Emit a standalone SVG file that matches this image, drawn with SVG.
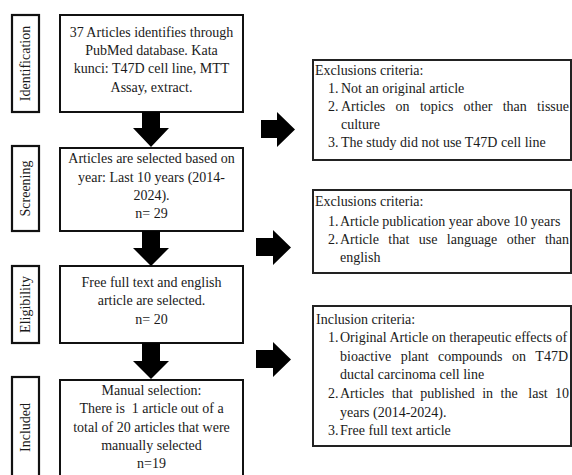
<svg xmlns="http://www.w3.org/2000/svg" width="572" height="475" viewBox="0 0 572 475">
<style>
text{font-family:"Liberation Serif","Times New Roman",serif;font-size:14px;fill:#1a1a1a}
.c{text-anchor:middle}
.e{text-anchor:end}
.box{fill:#fff;stroke:#111;stroke-width:2}
.lab{fill:#fff;stroke:#111;stroke-width:2.2}
.rb{fill:#fff;stroke:#222;stroke-width:2}
.arr{fill:#000}
.pre{white-space:pre}
</style>
<rect width="572" height="475" fill="#fff"/>
<g id="label-identification">
<rect class="lab" x="12" y="15" width="27" height="97"/>
<text class="c" transform="translate(30,63.5) rotate(-90)">Identification</text>
</g>
<g id="label-screening">
<rect class="lab" x="12" y="146" width="27" height="85"/>
<text class="c" transform="translate(30,188.5) rotate(-90)">Screening</text>
</g>
<g id="label-eligibility">
<rect class="lab" x="12" y="266" width="27" height="77"/>
<text class="c" transform="translate(30,304.5) rotate(-90)">Eligibility</text>
</g>
<g id="label-included">
<rect class="lab" x="12" y="377" width="27" height="110"/>
<text class="c" transform="translate(30,427.5) rotate(-90)">Included</text>
</g>
<g id="box-identification">
<rect class="box" x="60" y="15" width="183" height="97"/>
<text class="c" x="151.5" y="37">37 Articles identifies through</text>
<text class="c" x="151.5" y="55">PubMed database. Kata</text>
<text class="c" x="151.5" y="73">kunci: T47D cell line, MTT</text>
<text class="c" x="151.5" y="92">Assay, extract.</text>
</g>
<g id="box-screening">
<rect class="box" x="60" y="148" width="183" height="83"/>
<text class="c" x="151.5" y="163">Articles are selected based on</text>
<text class="c" x="151.5" y="182">year: Last 10 years (2014-</text>
<text class="c" x="151.5" y="200">2024).</text>
<text class="c" x="151.5" y="218">n= 29</text>
</g>
<g id="box-eligibility">
<rect class="box" x="60" y="266" width="183" height="77"/>
<text class="c" x="151.5" y="287">Free full text and english</text>
<text class="c" x="151.5" y="305">article are selected.</text>
<text class="c" x="151.5" y="324">n= 20</text>
</g>
<g id="box-included">
<rect class="box" x="60" y="380" width="183" height="110"/>
<text class="c" x="151.5" y="395">Manual selection:</text>
<text class="c pre" x="151.5" y="413">There is  1 article out of a</text>
<text class="c" x="151.5" y="432">total of 20 articles that were</text>
<text class="c" x="151.5" y="450">manually selected</text>
<text class="c" x="151.5" y="468">n=19</text>
</g>
<g id="box-exclusion-1">
<rect class="rb" x="313" y="60" width="258" height="100"/>
<text x="315" y="75">Exclusions criteria:</text>
<text x="328" y="93">1.</text><text x="341" y="93">Not an original article</text>
<text x="328" y="111">2.</text>
<text x="341" y="111">Articles</text><text x="395.6" y="111">on</text><text x="419.9" y="111">topics</text><text x="463.6" y="111">other</text><text x="502.7" y="111">than</text><text class="e" x="569" y="111">tissue</text>
<text x="341" y="129">culture</text>
<text x="328" y="147">3.</text><text x="341" y="147">The study did not use T47D cell line</text>
</g>
<g id="box-exclusion-2">
<rect class="rb" x="313" y="190" width="258" height="83"/>
<text x="315" y="206">Exclusions criteria:</text>
<text x="328" y="226">1.</text><text x="340" y="226">Article publication year above 10 years</text>
<text x="328" y="244">2.</text>
<text x="340" y="244">Article</text><text x="388.3" y="244">that</text><text x="418.7" y="244">use</text><text x="446.8" y="244">language</text><text x="506.7" y="244">other</text><text class="e" x="569" y="244">than</text>
<text x="340" y="262">english</text>
</g>
<g id="box-inclusion">
<rect class="rb" x="313" y="306" width="258" height="140"/>
<text x="316" y="324">Inclusion criteria:</text>
<text x="328" y="342">1.</text><text x="340" y="342">Original Article on therapeutic effects of</text>
<text x="340" y="361">bioactive</text><text x="400.7" y="361">plant</text><text x="438" y="361">compounds</text><text x="512" y="361">on</text><text class="e" x="568" y="361">T47D</text>
<text x="340" y="379">ductal carcinoma cell line</text>
<text x="328" y="398">2.</text>
<text x="340" y="398">Articles</text><text x="391.8" y="398">that</text><text x="420.3" y="398">published</text><text x="482.2" y="398">in</text><text x="500.6" y="398">the</text><text x="528.3" y="398">last</text><text class="e" x="569" y="398">10</text>
<text x="340" y="417">years (2014-2024).</text>
<text x="328" y="435">3.</text><text x="340" y="435">Free full text article</text>
</g>
<g id="connectors">
<polygon class="arr" points="142,112 160,112 160,128 169,128 151,147 133,128 142,128"/>
<polygon class="arr" points="142,231 160,231 160,248 169,248 151,266 133,248 142,248"/>
<polygon class="arr" points="142,343 160,343 160,361 169,361 151,379 133,361 142,361"/>
<polygon class="arr" points="261,120 277,120 277,112 295,129.5 277,147 277,138 261,138"/>
<polygon class="arr" points="256,238 273,238 273,230 291,247.5 273,265 273,256 256,256"/>
<polygon class="arr" points="256,350 273,350 273,342 291,359.5 273,377 273,368 256,368"/>
</g>
</svg>
